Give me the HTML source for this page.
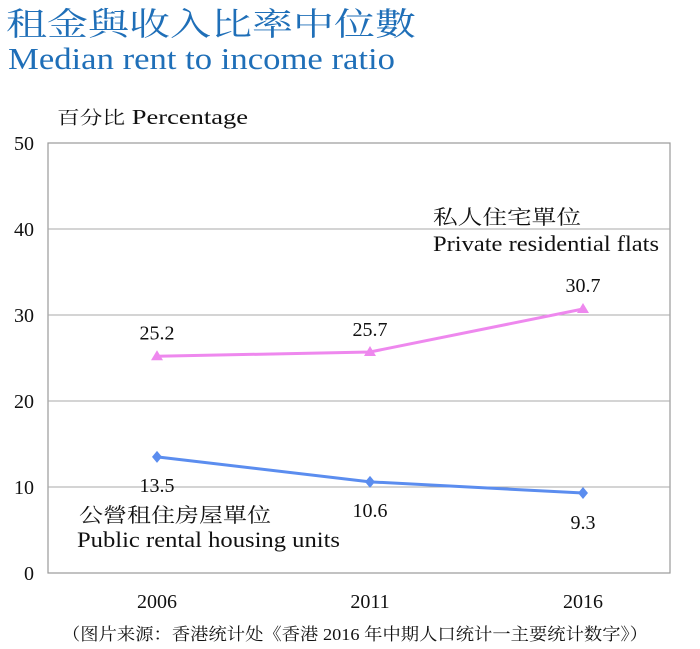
<!DOCTYPE html>
<html><head><meta charset="utf-8"><style>
body{margin:0;background:#fff;width:700px;height:649px;overflow:hidden}
svg{display:block}
text{font-family:"Liberation Serif","Noto Serif CJK SC",serif}
</style></head><body>
<svg width="700" height="649">
<text x="6" y="35" font-size="32" fill="#1f6fb8" font-family="'Noto Serif CJK SC',serif" textLength="410" lengthAdjust="spacingAndGlyphs">租金與收入比率中位數</text>
<text x="8" y="69" font-size="31" fill="#1f6fb8" font-family="'Liberation Sans',sans-serif" textLength="387" lengthAdjust="spacingAndGlyphs">Median rent to income ratio</text>
<text x="57" y="124" font-size="21" fill="#111" textLength="191" lengthAdjust="spacingAndGlyphs"><tspan font-family="'Noto Serif CJK SC',serif" font-size="18">百分比</tspan>  Percentage</text>
<g id="grid"></g><g id="plot"></g>
<text x="355" y="640" font-size="17" fill="#111" text-anchor="middle" font-family="'Noto Sans CJK SC',sans-serif" textLength="586" lengthAdjust="spacingAndGlyphs">（图片来源：香港统计处《香港 2016 年中期人口统计一主要统计数字》）</text>
</svg>
<script>
const years=["2006","2011","2016"];
const privateVals=[25.2,25.7,30.7];
const publicVals=[13.5,10.6,9.3];
const yTicks=[0,10,20,30,40,50];
const NS="http://www.w3.org/2000/svg";
const L=48,R=670,T=143,B=573;
const xs=i=>157+i*213;
const ys=v=>B-(v/50)*(B-T);
const g=document.getElementById('grid'),p=document.getElementById('plot');
function mk(tag,at,par,txt){const e=document.createElementNS(NS,tag);for(const k in at)e.setAttribute(k,at[k]);if(txt!==undefined)e.textContent=txt;par.appendChild(e);return e;}
let fr=mk('rect',{x:L,y:T,width:R-L,height:B-T,fill:'none',stroke:'#999','stroke-width':1.2},g);


yTicks.forEach(t=>{
  if(t>0&&t<50){let l=mk('line',{x1:L,x2:R,y1:ys(t),y2:ys(t),stroke:'#aaa','stroke-width':1},g);
  
  }
  let tx=mk('text',{x:34,y:ys(t)+7,'font-size':20,'text-anchor':'end',fill:'#111'},g,String(t));
  
  
});
years.forEach((y,i)=>{
  let tx=mk('text',{x:xs(i),y:608,'font-size':20,'text-anchor':'middle',fill:'#111'},g,y);
  
  
});
function series(vals,color,name,marker,lblDy){
  let pl=mk('polyline',{points:vals.map((v,i)=>xs(i)+','+ys(v)).join(' '),fill:'none',stroke:color,'stroke-width':3},p);
  
  
  vals.forEach((v,i)=>{
    const x=xs(i),y=ys(v);let m;
    if(marker==='tri') m=mk('polygon',{points:`${x},${y-6} ${x-6},${y+4} ${x+6},${y+4}`,fill:color},p);
    else m=mk('polygon',{points:`${x},${y-6} ${x+5},${y} ${x},${y+6} ${x-5},${y}`,fill:color},p);
    
    
    let t=mk('text',{x:x,y:y+lblDy[i],'font-size':20,'text-anchor':'middle',fill:'#111'},p,v.toFixed(1));
    
    
  });
}
series(privateVals,'#ee88ee','private','tri',[-17,-16,-17]);
series(publicVals,'#5b8def','public','dia',[35,35,36]);
let a=mk('text',{x:433,y:224,'font-size':20,fill:'#111','font-family':"'Noto Serif CJK SC',serif",textLength:148,lengthAdjust:'spacingAndGlyphs'},p,'私人住宅單位');


let b=mk('text',{x:433,y:251,'font-size':22,fill:'#111',textLength:226,lengthAdjust:'spacingAndGlyphs'},p,'Private residential flats');


let c=mk('text',{x:79,y:522,'font-size':20,fill:'#111','font-family':"'Noto Serif CJK SC',serif",textLength:192,lengthAdjust:'spacingAndGlyphs'},p,'公營租住房屋單位');


let d=mk('text',{x:77,y:547,'font-size':22,fill:'#111',textLength:263,lengthAdjust:'spacingAndGlyphs'},p,'Public rental housing units');


</script>
</body></html>
